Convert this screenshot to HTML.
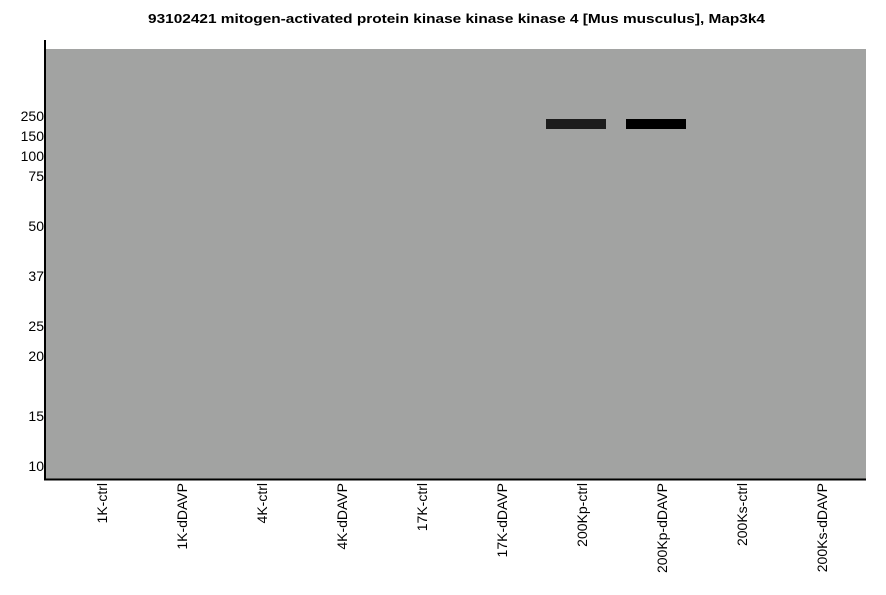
<!DOCTYPE html>
<html><head><style>body{margin:0;background:#fff}svg{display:block}</style></head><body>
<svg width="886" height="595" xmlns="http://www.w3.org/2000/svg" font-family="Liberation Sans, Arial, sans-serif">
<text x="148" y="23" font-size="13" font-weight="bold" textLength="617" lengthAdjust="spacingAndGlyphs">93102421 mitogen-activated protein kinase kinase kinase 4 [Mus musculus], Map3k4</text>
<rect x="46" y="49" width="820" height="430" fill="#a2a3a2"/>
<rect x="546" y="119" width="60" height="10" fill="#1c1c1c"/>
<rect x="626" y="119" width="60" height="10" fill="#000"/>
<line x1="45" y1="40" x2="45" y2="480" stroke="#000" stroke-width="2"/>
<line x1="44" y1="479.5" x2="866" y2="479.5" stroke="#000" stroke-width="2"/>
<g font-size="14" text-anchor="end" fill="#000">
<text x="44" y="121">250</text><text x="44" y="141">150</text><text x="44" y="161">100</text><text x="44" y="181">75</text>
<text x="44" y="231">50</text><text x="44" y="281">37</text><text x="44" y="331">25</text><text x="44" y="361">20</text>
<text x="44" y="421">15</text><text x="44" y="471">10</text>
</g>
<g font-size="14" text-anchor="end" fill="#000">
<text transform="translate(107,483) rotate(-90)">1K-ctrl</text>
<text transform="translate(187,483) rotate(-90)">1K-dDAVP</text>
<text transform="translate(267,483) rotate(-90)">4K-ctrl</text>
<text transform="translate(347,483) rotate(-90)">4K-dDAVP</text>
<text transform="translate(427,483) rotate(-90)">17K-ctrl</text>
<text transform="translate(507,483) rotate(-90)">17K-dDAVP</text>
<text transform="translate(587,483) rotate(-90)">200Kp-ctrl</text>
<text transform="translate(667,483) rotate(-90)">200Kp-dDAVP</text>
<text transform="translate(747,483) rotate(-90)">200Ks-ctrl</text>
<text transform="translate(827,483) rotate(-90)">200Ks-dDAVP</text>
</g>
</svg>
</body></html>
